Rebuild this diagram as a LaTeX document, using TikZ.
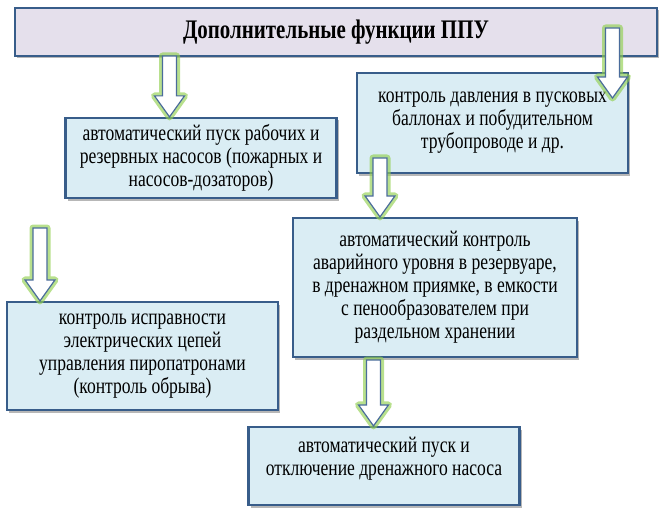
\documentclass[tikz,border=0pt]{standalone}
\usepackage{fontspec}
\setmainfont{Liberation Serif}[FakeStretch=0.78]
\usetikzlibrary{shadows,calc}
\definecolor{boxfill}{HTML}{DAEDF4}
\definecolor{boxline}{HTML}{385D8A}
\definecolor{titlefill}{HTML}{E5E0EC}
\definecolor{arrline}{HTML}{4A6C9B}
\definecolor{glow}{HTML}{92D050}
\tikzset{
    %Define style for boxes
    funcbox/.style={
           rectangle,
           draw=boxline, line width=2.2pt,
           fill=boxfill,
           minimum width=271pt,
           inner sep=2pt,
           align=center,
           font=\fontsize{22.5}{23}\selectfont,
           drop shadow={shadow xshift=2pt, shadow yshift=-2.5pt, opacity=.4, fill=black!70}
           },
    titlebox/.style={
           rectangle,
           draw=boxline, line width=2.2pt,
           fill=titlefill,
           minimum width=642pt,
           minimum height=48pt,
           font=\fontsize{26.8}{26}\selectfont\bfseries,
           drop shadow={shadow xshift=2pt, shadow yshift=-2.5pt, opacity=.4, fill=black!70}
           },
    % Define arrow style
    blockarr/.style={
           draw=arrline, line width=1.2pt,
           fill=white, line join=miter},
    arrglow/.style={
           draw=glow, line width=7pt,
           opacity=.65, line join=round}
}
% hollow block arrow: x from #1, tip at the height of #2
\newcommand{\blockarrow}[2]{
  \foreach \st in {arrglow,blockarr}{
    \path[\st] let \p1=(#1), \p2=(#2) in
      (\x1-7pt,\y1) -- (\x1-7pt,\y2+21pt) -- (\x1-15pt,\y2+21pt) -- (\x1,\y2)
      -- (\x1+15pt,\y2+21pt) -- (\x1+7pt,\y2+21pt) -- (\x1+7pt,\y1) -- cycle;
  }
}

\begin{document}
\begin{tikzpicture}[x=1pt,y=-1pt]
\useasboundingbox (0,0) rectangle (664,516);
 %nodes
\node[titlebox] (title) at (336,32) {Дополнительные функции ППУ};
\node[funcbox, minimum height=80pt] (pumps) at (201,158)
  {автоматический пуск рабочих и\\ резервных насосов (пожарных и\\ насосов-дозаторов)};
\node[funcbox, minimum height=100pt] (pressure) at (492.5,123)
  {контроль давления в пусковых\\ баллонах и побудительном\\ трубопроводе и др.};
\node[funcbox, minimum width=284pt, minimum height=139pt] (level) at (435,287.5)
  {автоматический контроль\\ аварийного уровня в резервуаре,\\ в дренажном приямке, в емкости\\ с пенообразователем при\\ раздельном хранении};
\node[funcbox, minimum height=108pt] (circuits) at (142.5,356)
  {контроль исправности\\ электрических цепей\\ управления пиропатронами\\ (контроль обрыва)};
\node[funcbox, minimum height=78pt, text depth=20pt] (drain) at (384,466)
  {автоматический пуск и\\ отключение дренажного насоса};

 %arrows
\coordinate (s1) at (169.5,56);
\coordinate (s2) at (612.5,28);
\coordinate (t2) at (612.5,98);
\coordinate (s3) at (380,158);
\coordinate (s4) at (40,228);
\coordinate (s5) at (373.5,360);
\blockarrow{s1}{pumps.north}
\blockarrow{s2}{t2}
\blockarrow{s3}{level.north}
\blockarrow{s4}{circuits.north}
\blockarrow{s5}{drain.north}
\end{tikzpicture}
\end{document}
